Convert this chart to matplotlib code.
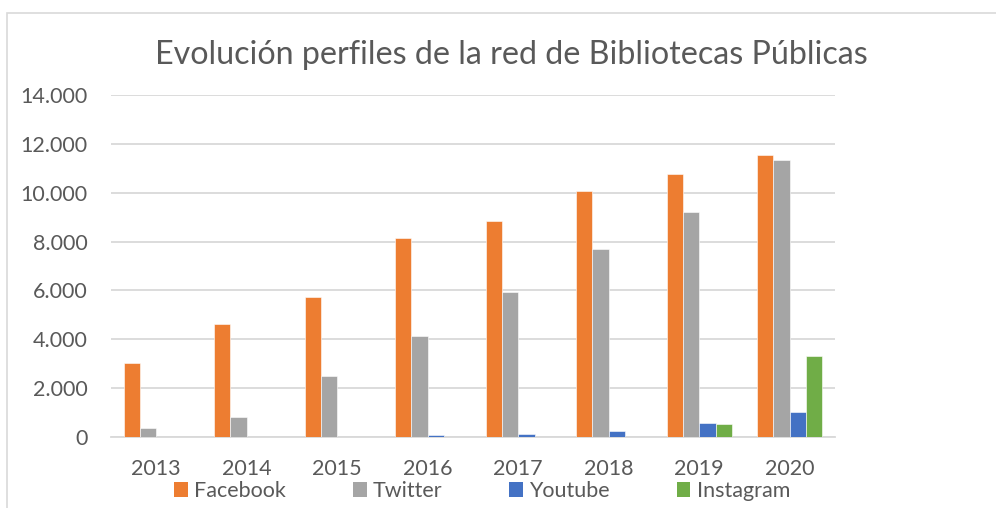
import matplotlib
matplotlib.use("Agg")
import matplotlib.pyplot as plt
from matplotlib.ticker import FuncFormatter, MultipleLocator
from matplotlib.patches import Rectangle, Patch
import numpy as np

years = ["2013", "2014", "2015", "2016", "2017", "2018", "2019", "2020"]
facebook = [3010, 4620, 5750, 8130, 8840, 10070, 10770, 11530]
twitter = [370, 820, 2490, 4140, 5920, 7690, 9210, 11340]
youtube = [0, 0, 0, 70, 110, 260, 590, 1010]
instagram = [0, 0, 0, 0, 0, 0, 530, 3300]
series_names = ["Facebook", "Twitter", "Youtube", "Instagram"]
series_colors = ["#ED7D31", "#A5A5A5", "#4472C4", "#70AD47"]
title = "Evolución perfiles de la red de Bibliotecas Públicas"

plt.rcParams['font.family'] = ['Lato', 'DejaVu Sans']
txt = "#595959"
fs = 15.5

fig = plt.figure(figsize=(9.96, 5.08), dpi=100)
fig.patches.append(Rectangle((7/996, -0.1), 1.2, 1.1 - 13/508, transform=fig.transFigure,
                             facecolor="none", edgecolor="#D9D9D9", lw=1.2, zorder=0))
ax = fig.add_axes([111/996, 1-437/508, 724/996, 342/508])

x = np.arange(len(years))
w = 0.18
data = [facebook, twitter, youtube, instagram]
for i, (vals, c, n) in enumerate(zip(data, series_colors, series_names)):
    ax.bar(x + (i - 1.5) * w, vals, width=w, color=c, edgecolor="white", linewidth=0.4, zorder=3, label=n)

ax.set_xlim(-0.5, len(years) - 0.5)
ax.set_ylim(0, 14000)
ax.yaxis.set_major_locator(MultipleLocator(2000))
ax.yaxis.set_major_formatter(FuncFormatter(lambda v, p: f"{int(v):,}".replace(",", ".")))
ax.set_xticks(x)
ax.set_xticklabels(years)
ax.grid(axis="y", color="#D9D9D9", lw=1.3, zorder=0)
for s in ["top", "right", "left"]:
    ax.spines[s].set_visible(False)
ax.spines["bottom"].set_color("#D9D9D9")
ax.spines["bottom"].set_linewidth(1.3)
ax.tick_params(axis="both", length=0, labelsize=fs, colors=txt)
ax.tick_params(axis="y", pad=17)
ax.tick_params(axis="x", pad=16)

fig.text(511/996, 1-55/508, title, ha="center", va="center", fontsize=23.2, color=txt)

handles = [Patch(facecolor=c, edgecolor="none") for c in series_colors]
leg = fig.legend(handles, series_names, loc="center", bbox_to_anchor=(482/996, 1-491/508), ncol=4,
                 frameon=False, fontsize=fs, handlelength=0.65, handleheight=0.65,
                 handletextpad=0.28, columnspacing=3.1, borderaxespad=0, borderpad=0)
for t in leg.get_texts():
    t.set_color(txt)

fig.savefig("out.png", dpi=100)
